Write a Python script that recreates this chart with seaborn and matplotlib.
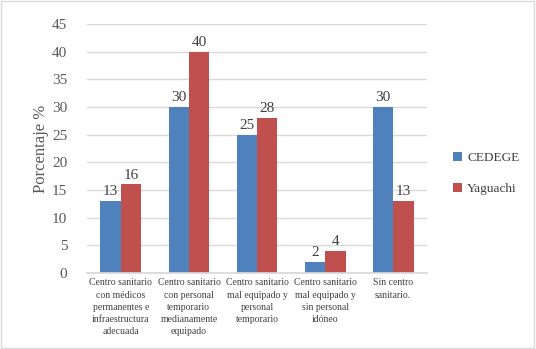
import matplotlib
matplotlib.use("Agg")
import matplotlib.pyplot as plt
import seaborn as sns
import pandas as pd

categories = [
    "Centro sanitario\ncon médicos\npermanentes e\ninfraestructura\nadecuada",
    "Centro sanitario\ncon personal\ntemporario\nmedianamente\nequipado",
    "Centro sanitario\nmal equipado y\npersonal\ntemporario",
    "Centro sanitario\nmal equipado y\nsin personal\nidóneo",
    "Sin centro\nsanitario.",
]
cedege = [13, 30, 25, 2, 30]
yaguachi = [16, 40, 28, 4, 13]
series = ["CEDEGE", "Yaguachi"]
colors = ["#4F81BD", "#C0504D"]

df = pd.DataFrame({
    "Categoria": categories * 2,
    "Valor": cedege + yaguachi,
    "Serie": [series[0]] * len(categories) + [series[1]] * len(categories),
})

sns.set_theme(style="white")
plt.rcParams["font.family"] = ["Liberation Serif", "DejaVu Serif"]

fig = plt.figure(figsize=(5.36, 3.49), dpi=100)
ax = fig.add_axes([0.162, 0.218, 0.635, 0.713])

sns.barplot(data=df, x="Categoria", y="Valor", hue="Serie",
            palette=colors, width=0.6, saturation=1, ax=ax, legend=True,
            edgecolor="none", linewidth=0)

for c in ax.containers:
    ax.bar_label(c, fmt="%g", fontsize=11, color="#404040", padding=2)

ax.set_ylim(0, 45)
ax.set_yticks(range(0, 46, 5))
ax.yaxis.grid(True, color="#D9D9D9", linewidth=1)
ax.set_axisbelow(True)
for s in ["top", "right", "left"]:
    ax.spines[s].set_visible(False)
ax.spines["bottom"].set_color("#D9D9D9")
ax.tick_params(axis="y", colors="#595959", labelsize=11, length=0, pad=14)
ax.tick_params(axis="x", colors="#404040", labelsize=7, length=0, pad=4)
for lbl in ax.get_xticklabels():
    lbl.set_linespacing(1.45)
ax.set_xlabel("")
ax.set_ylabel("Porcentaje %", fontsize=12, color="#595959", labelpad=2)

ax.legend(loc="center left", bbox_to_anchor=(1.04, 0.4), frameon=False,
          fontsize=9.5, handlelength=0.7, handleheight=0.7, labelspacing=1.45,
          handletextpad=0.4, labelcolor="#404040")

fig.patches.append(plt.Rectangle((0.002, 0.003), 0.995, 0.994, transform=fig.transFigure,
                                 fill=False, edgecolor="#D9D9D9", linewidth=1))

fig.savefig("out.png", dpi=100)
